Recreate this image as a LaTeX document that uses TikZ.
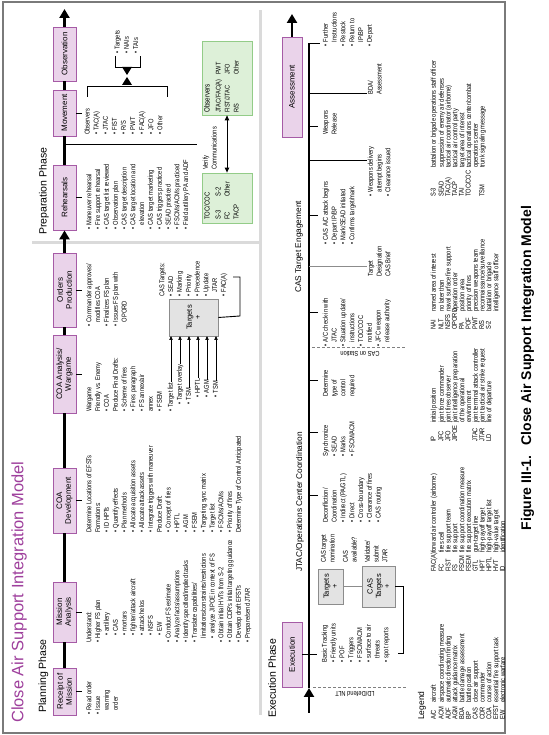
\documentclass[tikz,border=0pt]{standalone}
\usepackage{fontspec}
\setmainfont{Liberation Sans}
\newfontfamily\nar[FakeStretch=0.82]{Liberation Sans}
\usetikzlibrary{arrows.meta}
\definecolor{pfill}{HTML}{EAD3EA}
\definecolor{pdraw}{HTML}{A65BA6}
\definecolor{gfill}{HTML}{DDF0D8}
\definecolor{gdraw}{HTML}{93CC88}
\definecolor{tfill}{HTML}{E3E3E3}
\definecolor{tdraw}{HTML}{8C8C8C}
\definecolor{ttl}{HTML}{9E3F9C}
\definecolor{sepc}{HTML}{DADADA}
\definecolor{framec}{HTML}{7A7A7A}
\newcommand\bu{\makebox[4.6pt][l]{•}}
\newcommand\ci{\hspace*{4.6pt}}
\newcommand\nb{\hspace*{7pt}}
\tikzset{
  pbox/.style={draw=pdraw, fill=pfill, line width=0.8pt, inner sep=0pt, align=center, font=\fontsize{8}{8.8}\selectfont},
  gbox/.style={draw=gdraw, fill=gfill, line width=0.8pt, inner sep=0pt},
  tbox/.style={draw=tdraw, fill=tfill, line width=0.7pt, inner sep=0pt, align=center, font=\fontsize{7.5}{8.5}\selectfont},
  txt/.style={anchor=north west, inner sep=0pt, align=left, font=\nar\fontsize{7}{8.8}\selectfont},
  gtxt/.style={anchor=north west, inner sep=0pt, align=left, font=\nar\fontsize{7.2}{9}\selectfont},
  ltxt/.style={anchor=north west, inner sep=0pt, align=left, font=\nar\fontsize{7}{6.8}\selectfont},
  lineone/.style={anchor=west, inner sep=0pt, font=\nar\fontsize{7}{8.8}\selectfont, text height=5pt, text depth=1.2pt},
  phase/.style={anchor=west, inner sep=0pt, font=\fontsize{10.5}{12}\selectfont},
  head/.style={anchor=west, inner sep=0pt, font=\fontsize{8.3}{10}\selectfont},
  mainline/.style={line width=2.4pt},
  mainarrow/.style={line width=2.4pt, -{Triangle[length=9pt,width=10pt]}},
  tick/.style={line width=0.9pt},
  smallarrow/.style={line width=0.6pt, -{Triangle[length=4pt,width=3.4pt]}},
  dbl/.style={line width=0.9pt, {Triangle[length=5pt,width=4.5pt]}-{Triangle[length=5pt,width=4.5pt]}},
  dashsep/.style={draw=gray, line width=0.8pt, dash pattern=on 3pt off 2pt},
  rlabel/.style={inner sep=0pt, rotate=90, font=\nar\fontsize{7}{8}\selectfont},
}
\begin{document}
\begin{tikzpicture}[x=1pt,y=1pt]
\begin{scope}[rotate=90, transform shape]
\useasboundingbox (0,0) rectangle (735,-548);
% frame and separators
\draw[framec, line width=1.2pt] (2,-3) rectangle (733,-505);
\draw[sepc, line width=3pt] (20,-260) -- (725,-260);
\draw[sepc, line width=3pt] (492,-32) -- (492,-260);
% titles
\node[anchor=west, inner sep=0pt, text=ttl, font=\fontsize{16.5}{18}\selectfont] (title) at (12,-19) {Close Air Support Integration Model};
\node[anchor=center, inner sep=0pt, font=\bfseries\fontsize{14}{16}\selectfont] (caption) at (367,-527.5) {Figure III-1.\hspace{0.7em}Close Air Support Integration Model};
\node[phase] (plan) at (22,-43.5) {Planning Phase};
\node[phase] (prep) at (500,-44) {Preparation Phase};
\node[phase] (exec) at (17,-272) {Execution Phase};

% ---------------- planning boxes
\node[pbox, minimum width=47pt, minimum height=23pt] (rom) at (43.5,-64.5) {Receipt of\\Mission};
\node[pbox, minimum width=60pt, minimum height=23pt] (ma) at (123,-64.5) {Mission\\Analysis};
\node[pbox, minimum width=65pt, minimum height=23pt] (coad) at (234.5,-64.5) {COA\\Development};
\node[pbox, minimum width=78pt, minimum height=23pt] (coaa) at (361,-64.5) {COA Analysis/\\Wargame};
\node[pbox, minimum width=74pt, minimum height=23pt] (op) at (445,-64.5) {Orders\\Production};
\node[pbox, minimum width=65pt, minimum height=23pt] (reh) at (537.5,-64.5) {Rehearsals};
\node[pbox, minimum width=46pt, minimum height=23pt] (mov) at (622,-64.5) {Movement};
\node[pbox, minimum width=54pt, minimum height=23pt] (obs) at (681,-64.5) {Observation};
\coordinate (pend) at (726,-64.5);
\draw[mainline] (rom) -- (ma) -- (coad) -- (coaa) -- (op);
\draw[mainarrow] (op) -- (reh);
\draw[mainline] (reh) -- (mov) -- (obs);
\draw[mainarrow] (obs) -- (pend);
\foreach \b in {rom,ma,coad,coaa,op,reh,mov} {\draw[tick] (\b.south) -- ++(0,-6);}

% planning texts
\node[txt] (trom) at (20,-85) {\strut\bu Read order\\ \bu Issue\\ \ci warning\\ \ci order};
\node[txt] (tma) at (92,-85) {\strut Understand:\\
\bu Higher FS plan\\
\nb\bu artillery\\
\nb\bu CAS\\
\nb\bu mortars\\
\nb\bu fighter/attack aircraft\\
\nb\bu attack helos\\
\nb\bu NSFS\\
\nb\bu EW\\
\bu Conduct FS estimate\\
\bu Analyze facts/assumptions\\
\bu Identify specified/implied tasks\\
\bu Translate capabilities/\\
\ci limitations/constraints/restrictions\\
\ci\bu analyze JIPOE in context of FS\\
\bu Obtain initial HVTs from S-2\\
\bu Obtain CDR's initial targeting guidance\\
\bu Develop draft EFSTs\\
\bu Prepare/send JTAR};
\node[txt] (tcoad) at (202,-85) {\strut Determine Locations of EFSTs\\
Formations:\\
\bu ID HPTs\\
\bu Quantify effects\\
\bu Plan methods\\
\bu Allocate acquisition assets\\
\bu Allocate attack assets\\
\bu Integrate triggers with maneuver\\
Produce Draft:\\
\bu Concept of fires\\
\bu HPTL\\
\bu AGM\\
\bu FSEM\\
\bu Targeting sync matrix\\
\bu Target list\\
\bu FSCMs/ACMs\\
\bu Priority of fires\\
Determine Type of Control Anticipated};
\node[txt] (tcoaa) at (323,-85) {\strut Wargame\\
Friendly vs. Enemy\\
\bu COA\\
Produce Final Drafts:\\
\bu Scheme of fires\\
\bu Fires paragraph\\
\bu FS annex/air\\
annex\\
\bu FSEM};
\node[tbox, minimum width=37pt, minimum height=49pt] (tg1) at (417.5,-193.5) {Targets\\+};
\node[lineone] (a1) at (323,-171) {\bu Target list};
\node[lineone] (a2) at (323,-180) {\nb\bu Target overlay};
\node[lineone] (a3) at (323,-189) {\nb\bu TSM};
\node[lineone] (a4) at (323,-198) {\nb\nb\bu HPTL};
\node[lineone] (a5) at (323,-207) {\nb\nb\bu AGM};
\node[lineone] (a6) at (323,-216) {\nb\nb\bu TSM};
\coordinate (b1) at (399,-171);
\coordinate (b2) at (399,-180);
\coordinate (b3) at (399,-189);
\coordinate (b4) at (399,-198);
\coordinate (b5) at (399,-207);
\coordinate (b6) at (399,-216);
\foreach \i in {1,...,6} {\draw[smallarrow] (a\i.east) -- (b\i);}
\node[txt] (tcas) at (438,-158) {\strut CAS Targets:\\
\bu SEAD\\
\bu Marking\\
\bu Priority\\
\bu Precedence\\
\bu Update\\
\ci JTAR\\
\bu FAC(A)};
\coordinate (fc1) at (419,-240);
\coordinate (fc2) at (458,-240);
\coordinate (fc3) at (458,-233);
\draw[tick] (tg1.south) -- (fc1) -- (fc2) -- (fc3);
\node[txt] (top) at (408,-85) {\strut\bu Commander approves/\\ \ci modifies COA\\ \bu Finalizes FS plan\\ \bu Issues FS plan with\\ \ci OPORD};
\node[txt] (treh) at (505,-85) {\strut\bu Maneuver rehearsal\\
\bu Fire support rehearsal\\
\bu CAS target list reviewed\\
\bu Observation plan\\
\bu CAS target description\\
\bu CAS target location and\\
\ci elevation\\
\bu CAS target marketing\\
\bu CAS triggers practiced\\
\bu SEAD practiced\\
\bu FSCMs/ACMs practiced\\
\bu Field artillery PA and ADF};
% movement observers
\node[txt, font=\nar\fontsize{7}{9.1}\selectfont] (tmov) at (600,-83) {\strut Observers\\
\bu TAC(A)\\ \bu JTAC\\ \bu FIST\\ \bu R/S\\ \bu PWT\\ \bu FAC(A)\\ \bu JFO\\ \bu Other};
\draw[tick] (638,-87) -- (649,-87) -- (649,-167) -- (638,-167);
\fill (650,-122) -- (658,-127) -- (650,-132) -- cycle;
\fill (668,-122) -- (660,-127) -- (668,-132) -- cycle;
\draw[tick] (679,-115) -- (668,-115) -- (668,-140) -- (679,-140);
\node[txt, font=\nar\fontsize{7}{9.2}\selectfont] (ttgt) at (681,-113) {\strut\bu Targets\\ \bu NAIs\\ \bu TAIs};
% verify communications
\coordinate (vc1) at (591,-64.5);
\coordinate (vc2) at (591,-197);
\draw[tick] (vc1) -- (vc2);
\node[txt] (vcom) at (565,-201.5) {\strut Verify\\Communications};
\node[gbox, minimum width=50pt, minimum height=50pt] (toc) at (537,-227) {};
\node[gbox, minimum width=74pt, minimum height=50pt] (obsv) at (657,-227) {};
\draw[dbl] (toc.east) -- (obsv.west);
\node[gtxt] (toct) at (515,-203) {\strut TOC/COC\\[2pt] S-3\\ FC\\ TACP};
\node[gtxt] (toct2) at (538,-214) {\strut S-2\\ Other};
\node[gtxt, font=\nar\fontsize{7.6}{9}\selectfont] (obst) at (622,-203) {\strut Observers};
\node[gtxt, font=\nar\fontsize{6.8}{9}\selectfont] (obst1) at (622,-214) {\strut JTAC/FAC(A)\\ FIST/JTAC\\ R/S};
\node[gtxt, font=\nar\fontsize{6.8}{9}\selectfont] (obst2) at (660,-214) {\strut PWT\\ JFO\\ Other};

% ---------------- execution
\node[pbox, minimum width=65pt, minimum height=20pt] (exe) at (80.5,-292) {Execution};
\node[pbox, minimum width=100pt, minimum height=20pt] (ass) at (648,-292) {Assessment};
\coordinate (es) at (22,-309);
\coordinate (eld) at (47,-309);
\coordinate (ee) at (692,-309);
\coordinate (aend) at (721,-292);
\draw[mainarrow] (es) -- (eld);
\draw[mainline] (eld) -- (ee);
\draw[mainarrow] (ass) -- (aend);
\draw[tick] (exe.south) -- ++(0,-15);
\draw[tick] (ee) -- ++(0,-11);
\node[head] (h1) at (163,-300) {JTAC/Operations Center Coordination};
\node[head] (h2) at (442,-299) {CAS Target Engagement};
% dashed markers
\coordinate (ld1) at (48,-313);
\coordinate (ld2) at (48,-407);
\draw[dashsep] (ld1) -- (ld2);
\node[rlabel] (ldl) at (40.5,-355) {LD/Defend NLT};
\coordinate (cs1) at (388,-312);
\coordinate (cs2) at (388,-405);
\draw[dashsep] (cs1) -- (cs2);
\node[rlabel] (csl) at (380.5,-360) {CAS on Station};
% execution boxes
\node[tbox, minimum width=35pt, minimum height=25pt] (tg2) at (148.5,-330.5) {Targets\\+};
\node[tbox, minimum width=41pt, minimum height=33pt] (cast) at (148.5,-378.5) {CAS\\Targets\\+};
\draw[tdraw, line width=1.5pt] (tg2) -- (cast);
\coordinate (sp1) at (148.5,-403);
\coordinate (sp2) at (82,-403);
\coordinate (sp3) at (82,-398);
\draw[tick] (cast.south) -- (sp1) -- (sp2) -- (sp3);
\node[txt] (tbt) at (72,-320.5) {\strut Basic Tracking\\
\bu Friendly units\\
\bu POF\\
\bu Triggers\\
\bu FSCM/ACM\\
\bu surface to air\\
\ci threats\\
\bu spot reports};
\node[txt] (tnom) at (172,-319.5) {\strut CAS target\\nomination};
\node[txt] (tava) at (172,-341.5) {\strut CAS\\available?};
\node[txt] (tval) at (172,-363.5) {\strut Validate/\\submit\\JTAR};
% ticks
\foreach \u/\n in {240/k1,303/k2,355/k3,423/k4,520/k5,609/k6} {
  \coordinate (\n) at (\u,-309);
  \draw[tick] (\n) -- ++(0,-9);
}
\coordinate (k7) at (469,-309);
\draw[tdraw, line width=0.9pt] (k7) -- ++(0,-58);
\coordinate (k8) at (575,-309);
\draw[tick] (k8) -- ++(0,-58);
\coordinate (k9) at (642,-309);
\draw[tick] (k9) -- ++(0,-58);
\node[txt] (tdec) at (212,-321.5) {\strut Deconfliction/\\
Coordination\\
\bu Indirect (PA/GTL)\\
\bu Direct\\
\bu Cross-boundary\\
\bu Clearance of fires\\
\bu CAS routing};
\node[txt] (tsyn) at (278,-321.5) {\strut Synchronize\\ \bu SEAD\\ \bu Marks\\ \bu FSCM/ACM};
\node[txt] (tdet) at (338,-321.5) {\strut Determine\\type of\\control\\required};
\node[txt] (tchk) at (388,-321.5) {\strut\bu A/C check-in with\\
\ci JTAC\\
\bu Situation update/\\
\ci instructions\\
\bu TOC/COC\\
\ci notified\\
\bu JFC weapon\\
\ci release authority};
\node[txt] (tdes) at (458,-366.5) {\strut Target\\Designation\\CAS Brief};
\node[txt] (tatk) at (490,-321.5) {\strut\bu CAS A/C attack begins\\
\bu Depart IP/BP\\
\bu Mark/SEAD initiated\\
\bu Confirms target/mark};
\node[txt] (twd) at (538,-366.5) {\strut\bu Weapons delivery\\ \ci attempt begins\\ \bu Clearance issued};
\node[txt] (twr) at (600,-321.5) {\strut Weapons\\Release};
\node[txt] (tbda) at (640,-366.5) {\strut BDA/\\Assessment};
\node[txt] (tfur) at (688,-321.5) {\strut\bu Further\\ \ci Instructions\\ \bu Restock\\ \bu Return to\\ \ci IP/BP\\ \bu Depart};

% ---------------- legend
\node[anchor=west, inner sep=0pt, font=\fontsize{8.5}{10}\selectfont] (legend) at (15,-422) {Legend};
\node[ltxt] (la1) at (15,-430.5) {\strut A/C\\ACM\\ADF\\AGM\\BDA\\BP\\CAS\\CDR\\COA\\EFST\\EW};
\node[ltxt] (la2) at (32,-430.5) {\strut aircraft\\airspace coordinating measure\\automatic direction finding\\attack guidance matrix\\battle damage assessment\\battle position\\close air support\\commander\\course of action\\essential fire support task\\electronic warfare};
\node[ltxt] (lb1) at (163,-430.5) {\strut FAC(A)\\FC\\FIST\\FS\\FSCM\\FSEM\\GTL\\HPT\\HPTL\\HVT\\ID};
\node[ltxt] (lb2) at (182,-430.5) {\strut forward air controller (airborne)\\fires cell\\fire support team\\fire support\\fire support coordination measure\\fire support execution matrix\\gun-target line\\high-payoff target\\high-payoff target list\\high-value target\\identification};
\node[ltxt] (lc1) at (293,-430.5) {\strut IP\\JFC\\JFO\\JIPOE\\\mbox{}\\\mbox{}\\JTAC\\JTAR\\LD};
\node[ltxt] (lc2) at (312,-430.5) {\strut initial position\\joint force commander\\joint fires observer\\joint intelligence preparation\\of the operational\\environment\\joint terminal attack controller\\joint tactical air strike request\\line of departure};
\node[ltxt] (ld1) at (405,-430.5) {\strut NAI\\NLT\\NSFS\\OPORD\\PA\\POF\\PWT\\R/S\\S-2};
\node[ltxt] (ld2) at (423,-430.5) {\strut named area of interest\\no later than\\naval surface fire support\\operation order\\position area\\priority of fires\\precision weapons team\\reconnaissance/surveillance\\battalion or brigade\\intelligence staff officer};
\node[ltxt] (le1) at (538,-430.5) {\strut S-3\\SEAD\\TAC(A)\\TACP\\TAI\\TOC/COC\\\mbox{}\\TSM};
\node[ltxt] (le2) at (567,-430.5) {\strut battalion or brigade operations staff officer\\suppression of enemy air defenses\\tactical air coordinator (airborne)\\tactical air control party\\target area of interest\\tactical operations center/combat\\operations center\\trunk signaling message};
\end{scope}
\end{tikzpicture}
\end{document}
